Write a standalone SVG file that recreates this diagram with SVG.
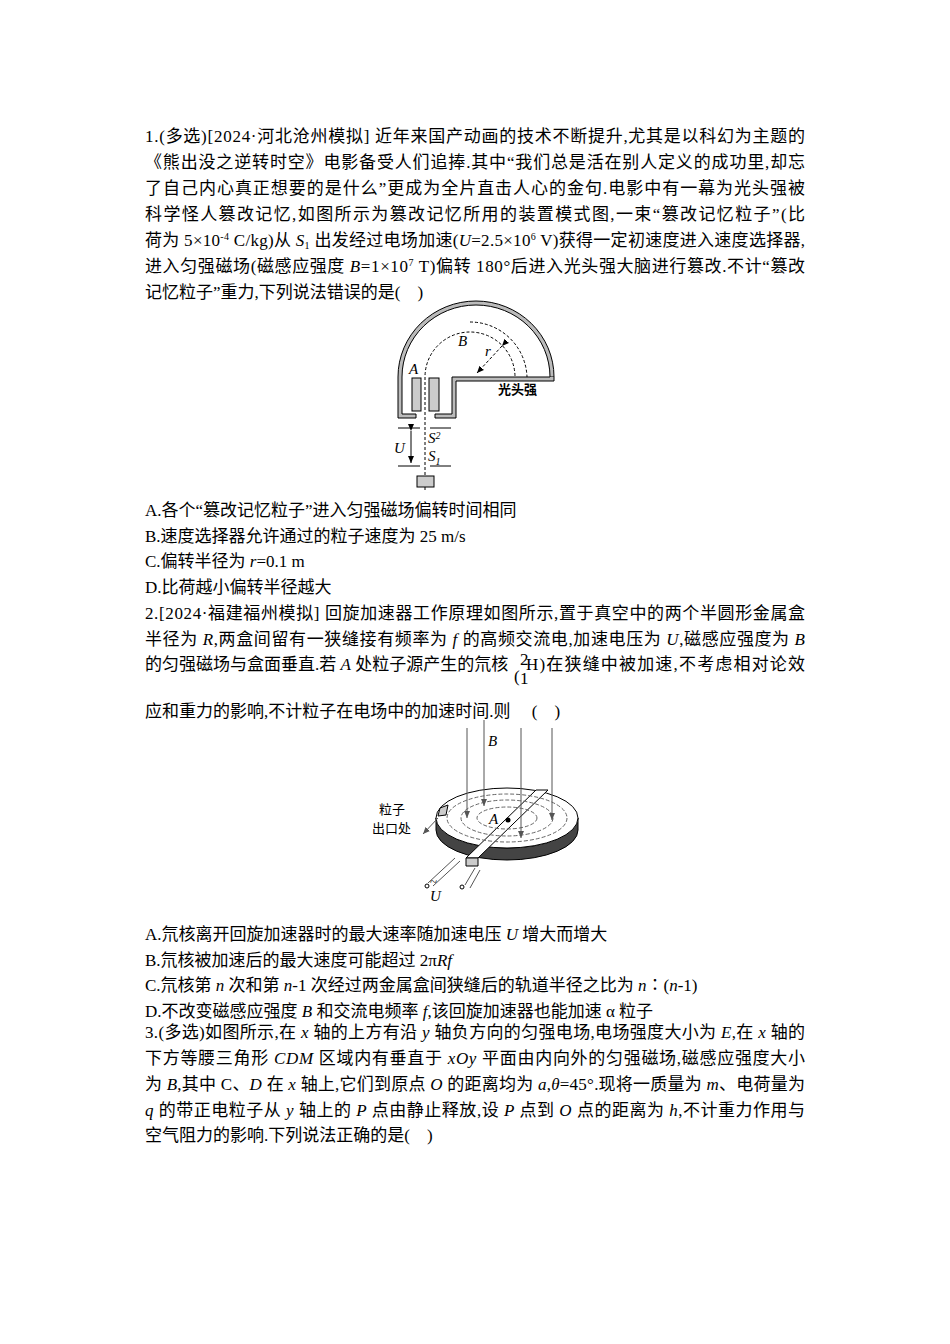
<svg xmlns="http://www.w3.org/2000/svg" width="950" height="1344" viewBox="0 0 950 1344">
<style>
.t{font-family:"Liberation Serif","Noto Sans CJK SC",serif;font-size:17px;fill:#000;white-space:pre}
.i{font-style:italic}
.f{font-family:"Noto Sans CJK SC",sans-serif;font-size:13px;fill:#000}
.fi{font-family:"Liberation Serif",serif;font-style:italic;font-size:15px}
.ln{stroke:#000;stroke-width:1;fill:none}
.d{stroke:#000;stroke-width:1;fill:none;stroke-dasharray:3,2}
.g{stroke:#666;stroke-width:1;fill:none;stroke-dasharray:4,2}
</style>
<defs>
<marker id="ah" markerWidth="8" markerHeight="8" refX="7" refY="4" orient="auto"><path d="M0,1L7,4L0,7z" fill="#000"/></marker>
<marker id="ag" markerWidth="8" markerHeight="8" refX="7" refY="4" orient="auto"><path d="M0,1L7,4L0,7z" fill="#555"/></marker>
</defs>
<rect width="950" height="1344" fill="#fff"/>
<g id="text">
<text class="t" x="145" y="142" textLength="660">1.(多选)[2024·河北沧州模拟] 近年来国产动画的技术不断提升,尤其是以科幻为主题的</text>
<text class="t" x="145" y="168" textLength="660">《熊出没之逆转时空》电影备受人们追捧.其中“我们总是活在别人定义的成功里,却忘</text>
<text class="t" x="145" y="194" textLength="660">了自己内心真正想要的是什么”更成为全片直击人心的金句.电影中有一幕为光头强被</text>
<text class="t" x="145" y="220" textLength="660">科学怪人篡改记忆,如图所示为篡改记忆所用的装置模式图,一束“篡改记忆粒子”(比</text>
<text class="t" x="145" y="246" textLength="660">荷为 5×10<tspan dy="-6" font-size="10">-4</tspan><tspan dy="6"> C/kg)从 </tspan><tspan class="i">S</tspan><tspan dy="3" font-size="10">1</tspan><tspan dy="-3"> 出发经过电场加速(</tspan><tspan class="i">U</tspan>=2.5×10<tspan dy="-6" font-size="10">6</tspan><tspan dy="6"> V)获得一定初速度进入速度选择器,</tspan></text>
<text class="t" x="145" y="272" textLength="660">进入匀强磁场(磁感应强度 <tspan class="i">B</tspan>=1×10<tspan dy="-6" font-size="10">7</tspan><tspan dy="6"> T)偏转 180°后进入光头强大脑进行篡改.不计“篡改</tspan></text>
<text class="t" x="145" y="298">记忆粒子”重力,下列说法错误的是(    )</text>
<text class="t" x="145" y="516">A.各个“篡改记忆粒子”进入匀强磁场偏转时间相同</text>
<text class="t" x="145" y="542">B.速度选择器允许通过的粒子速度为 25 m/s</text>
<text class="t" x="145" y="567">C.偏转半径为 <tspan class="i">r</tspan>=0.1 m</text>
<text class="t" x="145" y="593">D.比荷越小偏转半径越大</text>
<text class="t" x="145" y="619" textLength="660">2.[2024·福建福州模拟] 回旋加速器工作原理如图所示,置于真空中的两个半圆形金属盒</text>
<text class="t" x="145" y="645" textLength="660">半径为 <tspan class="i">R</tspan>,两盒间留有一狭缝接有频率为 <tspan class="i">f</tspan> 的高频交流电,加速电压为 <tspan class="i">U</tspan>,磁感应强度为 <tspan class="i">B</tspan></text>
<text class="t" x="145" y="670">的匀强磁场与盒面垂直.若 <tspan class="i">A</tspan> 处粒子源产生的氘核</text>
<text class="t" x="514" y="682">(</text>
<text class="t" x="520" y="665" font-size="10">2</text>
<text class="t" x="520" y="684" font-size="10">1</text>
<text class="t" x="526" y="670" textLength="279">H)在狭缝中被加速,不考虑相对论效</text>
<text class="t" x="145" y="717">应和重力的影响,不计粒子在电场中的加速时间.则     (    )</text>
<text class="t" x="145" y="940">A.氘核离开回旋加速器时的最大速率随加速电压 <tspan class="i">U</tspan> 增大而增大</text>
<text class="t" x="145" y="966">B.氘核被加速后的最大速度可能超过 2π<tspan class="i">Rf</tspan></text>
<text class="t" x="145" y="991">C.氘核第 <tspan class="i">n</tspan> 次和第 <tspan class="i">n</tspan>-1 次经过两金属盒间狭缝后的轨道半径之比为 <tspan class="i">n</tspan>∶(<tspan class="i">n</tspan>-1)</text>
<text class="t" x="145" y="1017">D.不改变磁感应强度 <tspan class="i">B</tspan> 和交流电频率 <tspan class="i">f</tspan>,该回旋加速器也能加速 α 粒子</text>
<text class="t" x="145" y="1038" textLength="660">3.(多选)如图所示,在 <tspan class="i">x</tspan> 轴的上方有沿 <tspan class="i">y</tspan> 轴负方向的匀强电场,电场强度大小为 <tspan class="i">E</tspan>,在 <tspan class="i">x</tspan> 轴的</text>
<text class="t" x="145" y="1064" textLength="660">下方等腰三角形 <tspan class="i">CDM</tspan> 区域内有垂直于 <tspan class="i">xOy</tspan> 平面由内向外的匀强磁场,磁感应强度大小</text>
<text class="t" x="145" y="1090" textLength="660">为 <tspan class="i">B</tspan>,其中 C、<tspan class="i">D</tspan> 在 <tspan class="i">x</tspan> 轴上,它们到原点 <tspan class="i">O</tspan> 的距离均为 <tspan class="i">a</tspan>,<tspan class="i">θ</tspan>=45°.现将一质量为 <tspan class="i">m</tspan>、电荷量为</text>
<text class="t" x="145" y="1116" textLength="660"><tspan class="i">q</tspan> 的带正电粒子从 <tspan class="i">y</tspan> 轴上的 <tspan class="i">P</tspan> 点由静止释放,设 <tspan class="i">P</tspan> 点到 <tspan class="i">O</tspan> 点的距离为 <tspan class="i">h</tspan>,不计重力作用与</text>
<text class="t" x="145" y="1141">空气阻力的影响.下列说法正确的是(    )</text>
</g>
<g id="fig1">
<path d="M398,418 V377 A78,76 0 0 1 554,377 H550 A74,72 0 0 0 402,377 V414 H416 V418 Z" fill="#bbb" stroke="#000" stroke-width="1"/>
<path d="M550,377 H452 V414 H435 V418 H456 V381 H554 V377" fill="#bbb" stroke="#000" stroke-width="1"/>
<rect x="412" y="378" width="9" height="33" fill="#ccc" stroke="#000"/>
<rect x="429" y="378" width="10" height="33" fill="#ccc" stroke="#000"/>
<text class="fi" x="409" y="374">A</text>
<path class="d" d="M425,490 V377 A45,45 0 0 1 515,377"/>
<path class="d" d="M470,322 A57,57 0 0 1 527,377"/>
<line class="ln" x1="502" y1="346" x2="477" y2="373" stroke-dasharray="3,2" marker-end="url(#ah)" marker-start="url(#ah)"/>
<text class="fi" x="485" y="356">r</text>
<text class="fi" x="458" y="346">B</text>
<text class="f" x="498" y="394" font-weight="bold">光头强</text>
<path class="ln" d="M398,428 H420 M430,428 H451 M398,466 H420 M430,466 H451" stroke-width="2"/>
<line class="ln" x1="411" y1="431" x2="411" y2="463" marker-end="url(#ah)" marker-start="url(#ah)"/>
<text class="fi" x="394" y="453">U</text>
<text class="fi" x="428" y="443">S<tspan font-size="10" dy="-4">2</tspan></text>
<text class="fi" x="428" y="461">S<tspan font-size="10" dy="4">1</tspan></text>
<rect x="417" y="476" width="17" height="11" fill="#ccc" stroke="#000"/>
</g>
<g id="fig2">
<path d="M436,818 A71,30 0 0 0 578,818 V830 A71,30 0 0 1 436,830 Z" fill="#444" stroke="#000"/>
<ellipse cx="507" cy="818" rx="71" ry="30" fill="#fff" stroke="#000"/>
<path d="M536,790 L548,790 L478,858 L466,858 Z" fill="#fff" stroke="#000"/>
<path d="M466,858 L478,858 L478,866 L466,866 Z" fill="#ccc" stroke="#000"/>
<ellipse class="g" cx="507" cy="818" rx="60" ry="24"/>
<ellipse class="g" cx="507" cy="818" rx="46" ry="18"/>
<ellipse class="g" cx="507" cy="818" rx="30" ry="11"/>
<path d="M440,808 L448,805 L446,815 L438,816 Z" fill="#ccc" stroke="#000"/>
<g stroke="#555" stroke-width="1">
<line x1="467" y1="728" x2="467" y2="818" marker-end="url(#ag)"/>
<line x1="484" y1="720" x2="484" y2="806" marker-end="url(#ag)"/>
<line x1="521" y1="728" x2="521" y2="838" marker-end="url(#ag)"/>
<line x1="552" y1="728" x2="552" y2="820" marker-end="url(#ag)"/>
<line x1="438" y1="818" x2="423" y2="834" marker-end="url(#ag)"/>
<path d="M455,858 L428,883 M460,861 L433,886 M475,868 L465,885 M480,870 L470,888" />
</g>
<circle cx="508" cy="820" r="2.5" fill="#000"/>
<text class="fi" x="489" y="824" font-size="13">A</text>
<text class="fi" x="488" y="746">B</text>
<text class="f" x="379" y="814">粒子</text>
<text class="f" x="372" y="833">出口处</text>
<circle cx="427" cy="886" r="2" fill="#fff" stroke="#000"/>
<circle cx="462" cy="887" r="2" fill="#fff" stroke="#000"/>
<text class="fi" x="430" y="901">U</text>
<text x="430" y="886" font-family="Liberation Serif" font-size="13">~</text>
</g>
</svg>
